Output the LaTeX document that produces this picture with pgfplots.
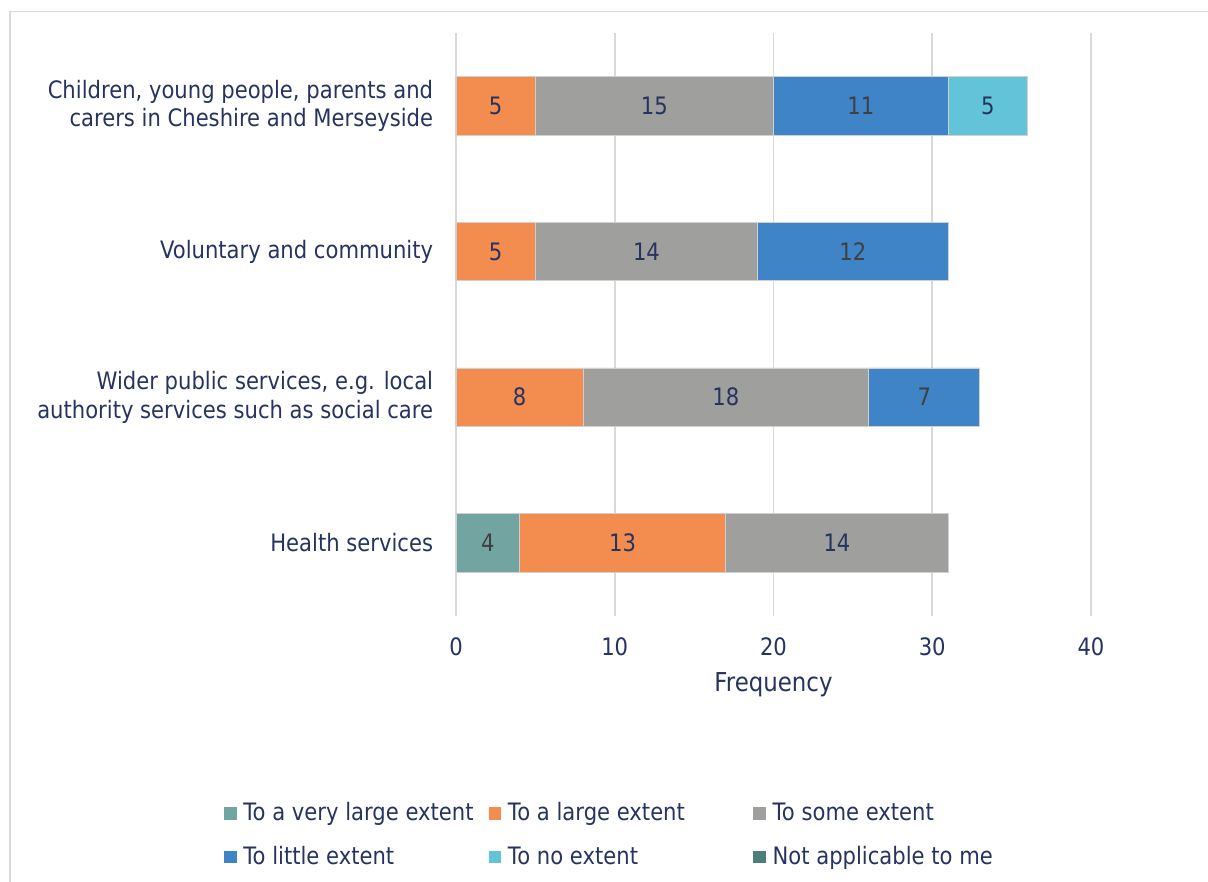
\documentclass[border=0pt]{standalone}
\usepackage{fontspec}
\setmainfont{DejaVu Sans}[FakeStretch=0.88]
\usepackage{pgfplots}
\usepackage{pgfplotstable}
\pgfplotsset{compat=1.18}
\definecolor{navy}{HTML}{25335E}
\definecolor{dgray}{HTML}{404040}
\definecolor{gridc}{HTML}{D9D9D9}
\definecolor{edgec}{HTML}{D0D0D0}
\definecolor{cvl}{HTML}{72A4A1}
\definecolor{cl}{HTML}{F28C4F}
\definecolor{cs}{HTML}{9F9F9D}
\definecolor{clt}{HTML}{3E84C6}
\definecolor{cno}{HTML}{63C3D8}
\definecolor{cna}{HTML}{4E7E7A}
\pgfplotstableread{
y vlarge large some little none
0 4 13 14 0 0
1 0 8 18 7 0
2 0 5 14 12 0
3 0 5 15 11 5
}\datatable
\newcommand\lfont{\fontsize{18}{21.5}\selectfont}
\newcommand\lent[1]{\makebox[185pt][l]{\hspace*{3pt}\rule[-5pt]{0pt}{18pt}#1}}
\begin{document}
\begin{tikzpicture}
\useasboundingbox (0,0) rectangle (906pt,661.5pt);
\draw[color=gridc, line width=1.1pt] (7.5pt,0pt) -- (7.5pt,652.9pt) -- (906pt,652.9pt);
\begin{axis}[
  at={(342pt,199.7pt)}, anchor=south west,
  scale only axis, width=476.25pt, height=437pt,
  xbar stacked, bar width=43.9pt,
  xmin=0, xmax=40, ymin=-0.5, ymax=3.5,
  xtick={0,10,20,30,40}, ytick={0,1,2,3},
  yticklabels={Health services,{Wider public services, e.g. local\\authority services such as social care},Voluntary and community,{Children, young people, parents and\\carers in Cheshire and Merseyside}},
  yticklabel style={align=right, anchor=east, inner sep=0pt, xshift=-17pt, font=\lfont, text=navy},
  xticklabel style={anchor=base, yshift=-30pt, inner sep=0pt, text=navy, font=\lfont},
  /pgf/number format/assume math mode=true,
  xlabel={Frequency},
  xlabel style={at={(axis description cs:0.5,0)}, anchor=base, yshift=-56.5pt, inner sep=0pt, text=navy, font=\fontsize{19.5}{23}\selectfont},
  xmajorgrids, grid style={color=gridc, line width=1.4pt},
  axis line style={draw=none}, major tick length=0pt, tick style={draw=none},
  legend columns=3,
  legend image code/.code={\fill[#1,draw=none] (0pt,0.75pt) rectangle (9.5pt,10.25pt);},
  legend style={at={(axis description cs:-0.36535,-0.316)}, anchor=north west, draw=none, fill=none,
    inner sep=0pt, outer sep=0pt, row sep=13.5pt, column sep=0pt,
    cells={anchor=base west, inner sep=0pt, text=navy, font=\lfont}},
  visualization depends on=rawx \as \rawx,
  nodes near coords={\ifdim\rawx pt>0pt\relax\pgfmathprintnumber{\rawx}\fi},
  every node near coord/.append style={font=\lfont, text=navy},
]
\addplot[fill=cvl, draw=edgec, line width=0.6pt, every node near coord/.append style={text=dgray}] table[x=vlarge, y=y] {\datatable};
\addlegendentry{\lent{To a very large extent}}
\addplot[fill=cl, draw=edgec, line width=0.6pt] table[x=large, y=y] {\datatable};
\addlegendentry{\lent{To a large extent}}
\addplot[fill=cs, draw=edgec, line width=0.6pt] table[x=some, y=y] {\datatable};
\addlegendentry{\lent{To some extent}}
\addplot[fill=clt, draw=edgec, line width=0.6pt, every node near coord/.append style={text=dgray}] table[x=little, y=y] {\datatable};
\addlegendentry{\lent{To little extent}}
\addplot[fill=cno, draw=edgec, line width=0.6pt] table[x=none, y=y] {\datatable};
\addlegendentry{\lent{To no extent}}
\addlegendimage{fill=cna, draw=none}
\addlegendentry{\lent{Not applicable to me}}
\end{axis}
\end{tikzpicture}
\end{document}
